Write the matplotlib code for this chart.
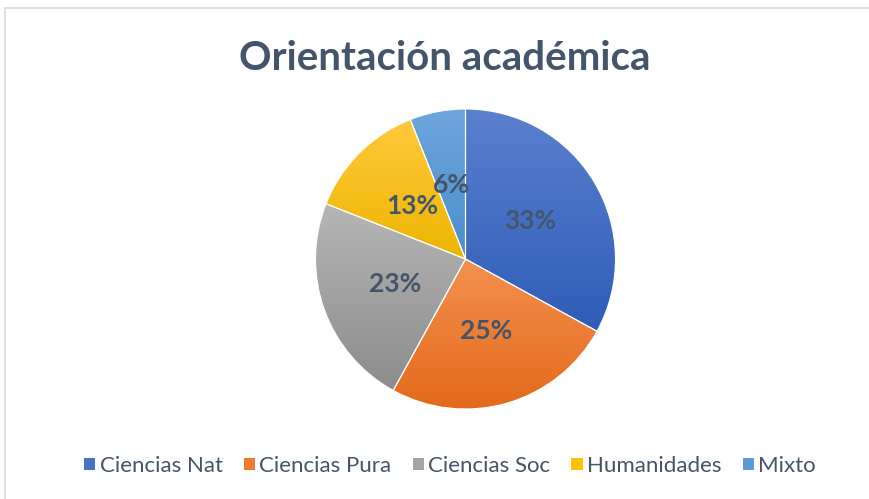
import numpy as np
import matplotlib
matplotlib.use('Agg')
import matplotlib.pyplot as plt
from matplotlib.patches import Patch, Rectangle
from matplotlib.colors import to_rgb

# datos
categorias = ['Ciencias Nat', 'Ciencias Pura', 'Ciencias Soc', 'Humanidades', 'Mixto']
valores = [33, 25, 23, 13, 6]
titulo = 'Orientación académica'

# colores (arriba, abajo) para el degradado
colores_arriba = ['#5B80CF', '#F4904F', '#B6B6B6', '#FFC93C', '#6EA6DC']
colores_abajo = ['#2E5DB7', '#E36A1A', '#8C8C8C', '#EDB500', '#4A8DCB']
colores_medio = ['#4472C4', '#ED7D31', '#A5A5A5', '#FFC000', '#5B9BD5']
texto_color = '#44546A'

plt.rcParams['font.family'] = ['Lato', 'DejaVu Sans']

W, H = 870, 499
fig = plt.figure(figsize=(W/100, H/100), dpi=100)

# borde del grafico
fig.patches.append(Rectangle((5/W, -0.05), 1.2, (H-8)/H + 0.05, transform=fig.transFigure,
                             fill=False, edgecolor='#D9D9D9', lw=1.2))

# eje del pie: centro (465.5, 259), radio 150 px
cx, cy, r = 465.5, 259, 150
ax = fig.add_axes([(cx-r)/W, (H-cy-r)/H, 2*r/W, 2*r/H])

wedges, textos, autotextos = ax.pie(valores, startangle=90, counterclock=False,
                                    colors=colores_medio, autopct='%1.0f%%', pctdistance=0.5,
                                    wedgeprops=dict(edgecolor='white', linewidth=0.8),
                                    textprops=dict(color=texto_color, fontsize=19, fontweight='bold'))

# degradado vertical por cada sector
for i, w in enumerate(wedges):
    bb = w.get_path().get_extents()
    c1 = np.array(to_rgb(colores_arriba[i]))
    c2 = np.array(to_rgb(colores_abajo[i]))
    t = np.linspace(0, 1, 256)[:, None, None]
    grad = c1[None, None, :]*(1-t) + c2[None, None, :]*t
    im = ax.imshow(grad, extent=(bb.x0, bb.x1, bb.y0, bb.y1), origin='upper',
                   aspect='auto', interpolation='bilinear', zorder=1)
    im.set_clip_path(w)
    w.set_facecolor('none')
    w.set_zorder(2)

for t in autotextos:
    t.set_zorder(3)

ax.set_xlim(-1, 1)
ax.set_ylim(-1, 1)
ax.axis('off')

fig.text(445/W, (H-70)/H, titulo, ha='center', va='baseline', fontsize=29,
         fontweight='bold', color=texto_color)

handles = [Patch(facecolor=c, edgecolor='none') for c in colores_medio]
fig.legend(handles, categorias, loc='center', bbox_to_anchor=(450/W, (H-466)/H),
           ncol=5, frameon=False, fontsize=16, handlelength=0.5, handleheight=0.5,
           handletextpad=0.2, columnspacing=0.95, labelcolor=texto_color)

fig.savefig('out.png', dpi=100)
